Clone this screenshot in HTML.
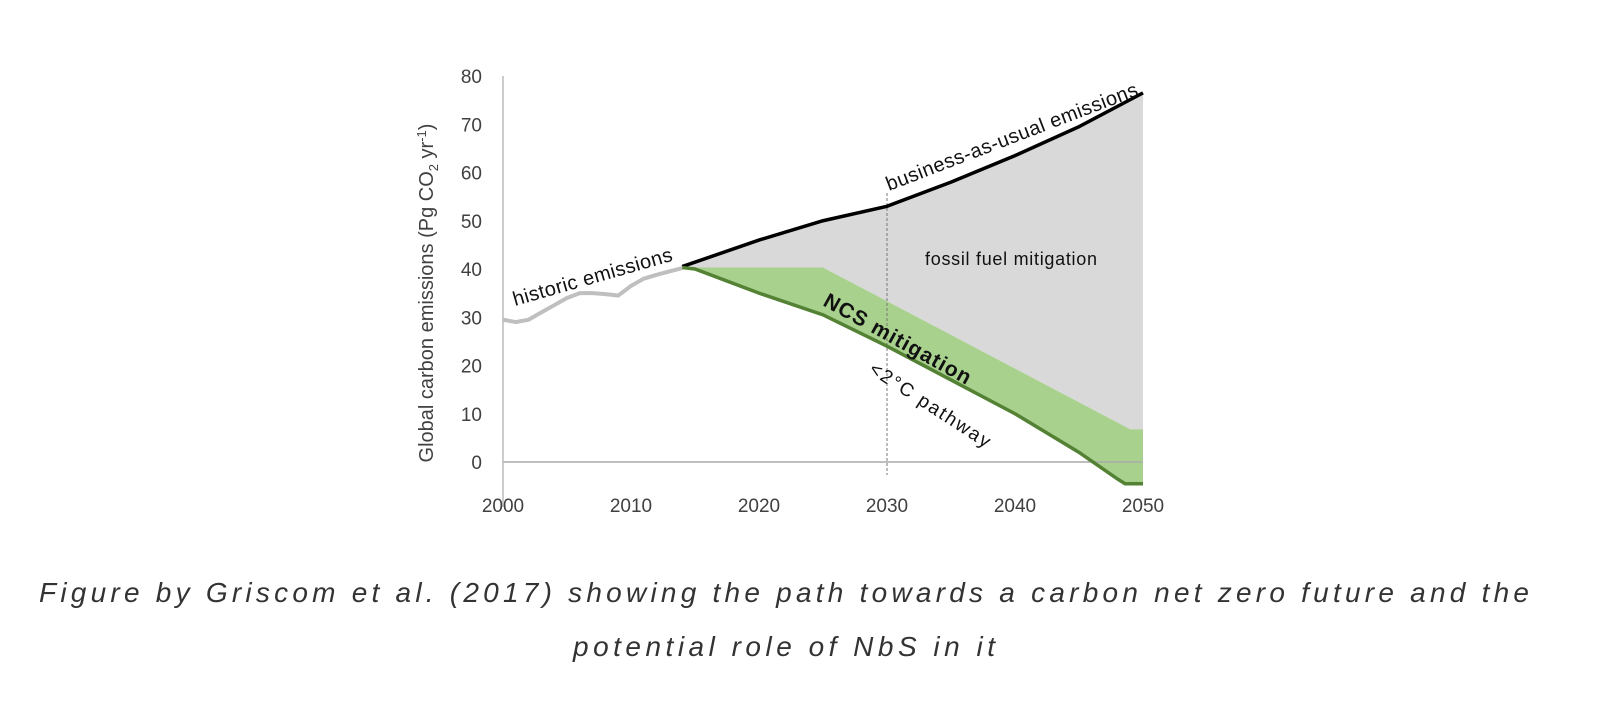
<!DOCTYPE html>
<html><head><meta charset="utf-8"><style>
body{margin:0;background:#fff;width:1600px;height:723px;overflow:hidden}
svg{display:block}
</style></head><body>
<svg width="1600" height="723" font-family="Liberation Sans, sans-serif">
<g id="plot"></g>
<text x="784" y="602" font-size="28" font-style="italic" fill="#333" text-anchor="middle" textLength="1490">Figure by Griscom et al. (2017) showing the path towards a carbon net zero future and the</text>
<text x="784" y="656" font-size="28" font-style="italic" fill="#333" text-anchor="middle" textLength="422">potential role of NbS in it</text>
</svg>
<script>
const histYears=[2000,2001,2002,2003,2004,2005,2006,2007,2008,2009,2010,2011,2012,2013,2014];
const histValues=[29.5,29,29.5,31,32.5,34,35,35,34.8,34.5,36.5,38,38.8,39.5,40.2];
const bauYears=[2014,2020,2025,2030,2035,2040,2045,2050];
const bauValues=[40.5,46,50,53,58,63.5,69.5,76.5];
const ncsYears=[2014,2025,2049,2050];
const ncsValues=[40.3,40.3,6.8,6.8];
const pathYears=[2014,2015,2020,2025,2030,2035,2040,2045,2048,2048.6,2050];
const pathValues=[40.3,40,35,30.5,24,17,10,2,-3.5,-4.5,-4.5];
const yTicks=[0,10,20,30,40,50,60,70,80];
const xTicks=[2000,2010,2020,2030,2040,2050];

const NS='http://www.w3.org/2000/svg';
const g=document.getElementById('plot');
const X=y=>503+(y-2000)*12.8;
const Y=v=>462-v*4.825;
function mk(t,a){const e=document.createElementNS(NS,t);for(const k in a)e.setAttribute(k,a[k]);g.appendChild(e);return e;}
const pts=(xs,vs)=>xs.map((x,i)=>X(x)+','+Y(vs[i])).join(' ');

// grey area between BAU and NCS upper
let grey=mk('polygon',{points:pts(bauYears,bauValues)+' '+pts(ncsYears.slice().reverse(),ncsValues.slice().reverse()),fill:'#d9d9d9'});


let green=mk('polygon',{points:pts(ncsYears,ncsValues)+' '+pts(pathYears.slice().reverse(),pathValues.slice().reverse()),fill:'#a9d18e'});



let xa=mk('line',{x1:X(2000),x2:X(2050),y1:Y(0),y2:Y(0),stroke:'#aaa','stroke-width':1.5});


let ya=mk('line',{x1:X(2000),x2:X(2000),y1:Y(80),y2:507,stroke:'#bbb','stroke-width':1.5});


let dl=mk('line',{x1:X(2030),x2:X(2030),y1:193,y2:475,stroke:'#777','stroke-width':1,'stroke-dasharray':'3,2'});



let hl=mk('polyline',{points:pts(histYears,histValues),fill:'none',stroke:'#bfbfbf','stroke-width':4});


let bl=mk('polyline',{points:pts(bauYears,bauValues),fill:'none',stroke:'#000','stroke-width':3.5});


let pl=mk('polyline',{points:pts(pathYears,pathValues),fill:'none',stroke:'#548235','stroke-width':3.5});



yTicks.forEach(v=>{const t=mk('text',{x:482,y:Y(v)+7,'font-size':19,fill:'#404040','text-anchor':'end'});t.textContent=v;

});
xTicks.forEach(v=>{const t=mk('text',{x:X(v),y:512,'font-size':19,fill:'#404040','text-anchor':'middle'});t.textContent=v;

});

function lab(txt,x,y,rot,size,name,bold,len){const t=mk('text',{x:x,y:y,'font-size':size,fill:'#111',transform:`rotate(${rot} ${x} ${y})`});
if(bold)t.setAttribute('font-weight','bold');if(len)t.setAttribute('textLength',len);t.textContent=txt;

return t;}
const yt=mk('text',{x:433,y:293,'font-size':20,fill:'#404040','text-anchor':'middle',transform:'rotate(-90 433 293)'});
yt.innerHTML='Global carbon emissions (Pg CO<tspan font-size="13" dy="5">2</tspan><tspan dy="-5"> yr</tspan><tspan font-size="13" dy="-7">-1</tspan><tspan dy="7">)</tspan>';


lab('historic emissions',515,306,-16,20,'historic-emissions-label',false,165);
lab('business-as-usual emissions',889,191,-21,20,'bau-emissions-label',false,268);
lab('fossil fuel mitigation',925,265,0,18,'fossil-fuel-mitigation-label',false,172);
lab('NCS mitigation',822,305,29,21,'ncs-mitigation-label',true,165);
lab('<2°C pathway',868,372,33,19,'2c-pathway-label',false,140);
</script>
</body></html>
